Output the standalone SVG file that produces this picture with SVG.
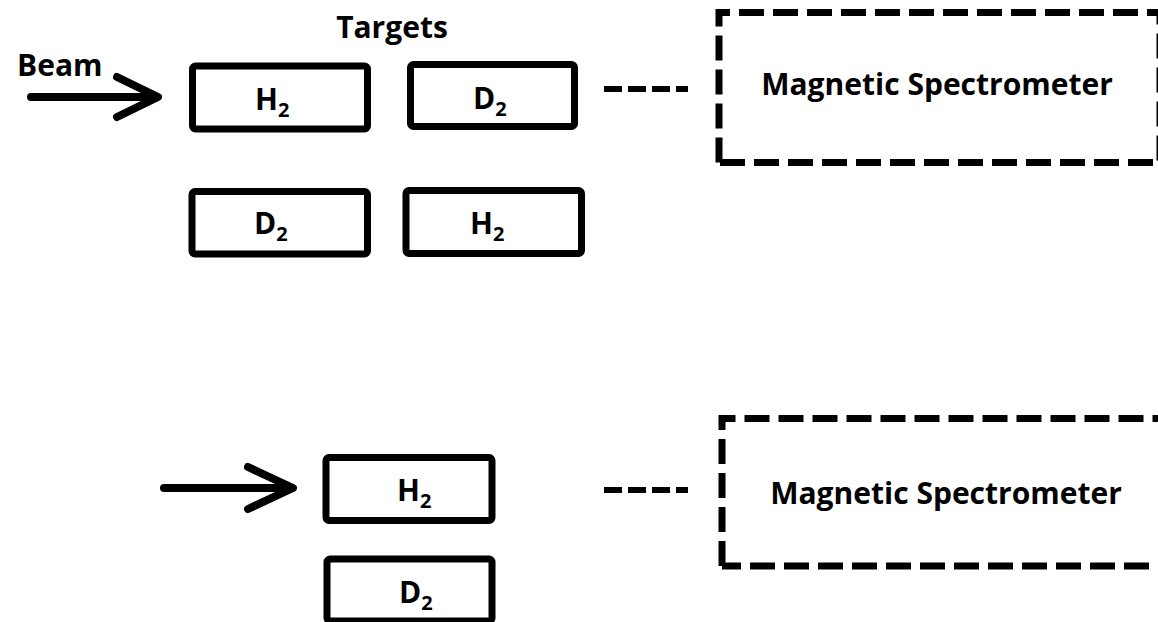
<svg xmlns="http://www.w3.org/2000/svg" width="1158" height="622" viewBox="0 0 1158 622">
<style>
text{font-family:"Open Sans","Liberation Sans",sans-serif;font-weight:bold;fill:#000}
.lbl{font-size:30px}
.sub{font-size:20px}
.box{fill:#fff;stroke:#000;stroke-width:7;rx:3}
.spec{fill:none;stroke:#000;stroke-width:7;stroke-dasharray:25 9}
.arrow{fill:none;stroke:#000;stroke-width:8;stroke-linecap:round;stroke-linejoin:round}
.dash{fill:none;stroke:#000;stroke-width:6;stroke-dasharray:18 6}
</style>
<rect width="1158" height="622" fill="#fff"/>
<g id="labels">
<text class="lbl" x="392" y="38" text-anchor="middle">Targets</text>
<text class="lbl" x="17" y="76">Beam</text>
</g>
<g id="connectors">
<path class="arrow" d="M31 97H156M117 77L158 97L117 117"/>
<path class="arrow" d="M164 488H291M248 467L293 488L248 509"/>
<path class="dash" d="M604 89H688"/>
<path class="dash" d="M604 490H688"/>
</g>
<g id="t1-h2"><rect class="box" x="192.5" y="66" width="175" height="63"/><text class="lbl" x="255" y="110">H<tspan class="sub" dy="7">2</tspan></text></g>
<g id="t1-d2"><rect class="box" x="410.5" y="64.5" width="164" height="62"/><text class="lbl" x="473" y="109">D<tspan class="sub" dy="7">2</tspan></text></g>
<g id="t2-d2"><rect class="box" x="192" y="191.5" width="175.5" height="62.5"/><text class="lbl" x="254" y="234">D<tspan class="sub" dy="7">2</tspan></text></g>
<g id="t2-h2"><rect class="box" x="406" y="190.5" width="175.5" height="63"/><text class="lbl" x="470" y="234">H<tspan class="sub" dy="7">2</tspan></text></g>
<g id="spec1"><path class="spec" d="M719 162.5V12.5H1160V162.5H719"/><text class="lbl" x="937" y="95" text-anchor="middle">Magnetic Spectrometer</text></g>
<g id="t3-h2"><rect class="box" x="326" y="457.5" width="166" height="63"/><text class="lbl" x="397" y="501">H<tspan class="sub" dy="7">2</tspan></text></g>
<g id="t3-d2"><rect class="box" x="327" y="559" width="165" height="62"/><text class="lbl" x="399" y="603">D<tspan class="sub" dy="7">2</tspan></text></g>
<g id="spec2"><path class="spec" d="M722 566V418.5H1162V566H722"/><text class="lbl" x="946" y="504" text-anchor="middle">Magnetic Spectrometer</text></g>
</svg>
